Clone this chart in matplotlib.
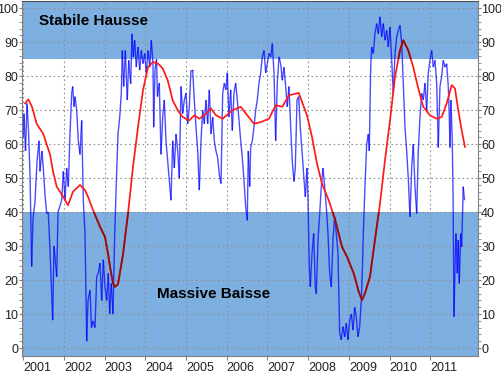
import numpy as np
import matplotlib
matplotlib.use("Agg")
import matplotlib.pyplot as plt
from matplotlib.collections import LineCollection

plt.rcParams['font.family'] = ['Liberation Sans', 'DejaVu Sans']

# indicator (weekly readings)
blue_years = [
    2001.000, 2001.017, 2001.054, 2001.091, 2001.128, 2001.165, 2001.206, 2001.238, 2001.287, 2001.337,
    2001.386, 2001.410, 2001.459, 2001.491, 2001.533, 2001.575, 2001.614, 2001.656, 2001.722, 2001.754,
    2001.821, 2001.853, 2001.943, 2001.983, 2002.025, 2002.066, 2002.106, 2002.147, 2002.189, 2002.214,
    2002.246, 2002.270, 2002.312, 2002.351, 2002.393, 2002.435, 2002.474, 2002.516, 2002.558, 2002.590,
    2002.639, 2002.676, 2002.713, 2002.762, 2002.803, 2002.843, 2002.885, 2002.926, 2002.966, 2003.007,
    2003.049, 2003.088, 2003.123, 2003.162, 2003.204, 2003.246, 2003.285, 2003.327, 2003.369, 2003.408,
    2003.432, 2003.467, 2003.506, 2003.555, 2003.590, 2003.639, 2003.671, 2003.703, 2003.737, 2003.776,
    2003.818, 2003.860, 2003.899, 2003.941, 2003.983, 2004.022, 2004.064, 2004.106, 2004.145, 2004.187,
    2004.204, 2004.236, 2004.273, 2004.297, 2004.342, 2004.383, 2004.425, 2004.464, 2004.506, 2004.548,
    2004.587, 2004.629, 2004.671, 2004.710, 2004.752, 2004.794, 2004.833, 2004.875, 2004.916, 2004.956,
    2004.998, 2005.039, 2005.079, 2005.120, 2005.162, 2005.201, 2005.243, 2005.285, 2005.324, 2005.366,
    2005.408, 2005.447, 2005.489, 2005.531, 2005.570, 2005.612, 2005.654, 2005.693, 2005.735, 2005.776,
    2005.816, 2005.858, 2005.899, 2005.939, 2005.980, 2006.012, 2006.054, 2006.096, 2006.135, 2006.177,
    2006.219, 2006.258, 2006.300, 2006.342, 2006.381, 2006.423, 2006.464, 2006.504, 2006.528, 2006.563,
    2006.587, 2006.627, 2006.668, 2006.710, 2006.749, 2006.791, 2006.833, 2006.872, 2006.914, 2006.956,
    2006.995, 2007.037, 2007.079, 2007.118, 2007.160, 2007.201, 2007.241, 2007.283, 2007.324, 2007.364,
    2007.405, 2007.447, 2007.486, 2007.528, 2007.570, 2007.609, 2007.651, 2007.683, 2007.725, 2007.767,
    2007.806, 2007.848, 2007.889, 2007.929, 2007.970, 2007.995, 2008.027, 2008.052, 2008.093, 2008.135,
    2008.174, 2008.199, 2008.241, 2008.283, 2008.322, 2008.364, 2008.405, 2008.445, 2008.486, 2008.528,
    2008.568, 2008.609, 2008.651, 2008.690, 2008.732, 2008.774, 2008.813, 2008.855, 2008.897, 2008.936,
    2008.978, 2009.019, 2009.059, 2009.101, 2009.142, 2009.182, 2009.224, 2009.265, 2009.305, 2009.334,
    2009.354, 2009.395, 2009.437, 2009.477, 2009.501, 2009.536, 2009.560, 2009.600, 2009.640, 2009.683,
    2009.722, 2009.764, 2009.806, 2009.845, 2009.887, 2009.929, 2009.968, 2010.010, 2010.052, 2010.091,
    2010.133, 2010.174, 2010.214, 2010.256, 2010.297, 2010.337, 2010.378, 2010.420, 2010.459, 2010.501,
    2010.543, 2010.582, 2010.624, 2010.666, 2010.705, 2010.747, 2010.789, 2010.828, 2010.870, 2010.911,
    2010.951, 2010.992, 2011.034, 2011.074, 2011.115, 2011.157, 2011.196, 2011.238, 2011.280, 2011.319,
    2011.361, 2011.403, 2011.442, 2011.467, 2011.484, 2011.508, 2011.540, 2011.560, 2011.582, 2011.607,
    2011.631, 2011.663, 2011.687, 2011.712, 2011.747, 2011.771, 2011.810, 2011.840,
]
blue_values = [
    62, 69, 58, 72, 64, 51, 24, 38, 43, 55,
    61, 52, 58, 53, 45, 39.6, 40, 28.8, 8.2, 30,
    21, 40, 43.5, 52, 43.5, 53, 47.5, 63, 75, 77,
    71, 74, 70, 61, 57, 67, 43.5, 33.7, 2, 14,
    17, 6, 8, 6, 21, 22, 25, 14, 26, 18,
    14, 22, 10, 19, 10, 33.7, 48.4, 63, 68, 75,
    87.6, 77, 87.6, 73, 84.7, 77.8, 92.5, 85.7, 90.6, 82.7,
    88.6, 81.8, 87.6, 83.7, 86.7, 80.8, 87.6, 82.7, 90.6, 83.7,
    65, 82, 85, 74, 78, 57, 68, 73, 61, 55,
    49.4, 43.5, 61, 53, 63, 58, 50, 77, 69, 73,
    75, 66, 71, 81.8, 81.8, 73, 65, 58, 46.5, 61,
    70, 66, 73, 66, 76, 63, 68, 61, 58, 56,
    51, 48.4, 75, 78, 76, 81, 68, 76, 64, 75,
    78, 73, 67, 61, 56, 49.4, 41.6, 37.6, 58, 47.5,
    59, 61, 65, 70, 73, 78, 81, 85.7, 87.6, 81,
    83.7, 86.7, 85.7, 89.6, 81, 61, 78, 85.7, 83.7, 78.8,
    82.7, 77, 71, 77, 65, 55, 49, 53, 73, 74,
    65, 58, 51, 44.5, 53, 43.5, 24, 18, 27.8, 33.7,
    18, 16, 31.8, 39.6, 47.5, 53, 47.5, 41.6, 33.7, 22,
    18, 31.8, 38.6, 33.7, 27.8, 4.3, 2.4, 6.3, 3.3, 7.3,
    2.4, 8.2, 10, 5.3, 12, 9.2, 3.3, 6.3, 14, 24,
    33.7, 47.5, 60, 63, 58, 82.7, 88.6, 86.7, 92.5, 95.5,
    92.5, 97.5, 91.6, 95.5, 90.6, 93.5, 88.6, 94.5, 84.7, 75,
    86.7, 91.6, 93.5, 95, 89.6, 77.8, 65, 58, 50, 38.6,
    53, 60, 47.5, 39.6, 58, 68, 75, 73, 78, 70,
    81, 84.7, 87.6, 82.7, 84.7, 78, 59, 77, 80, 84.7,
    82.7, 83.7, 77, 68, 59, 73, 61, 45, 9.2, 24,
    33.7, 22, 31.8, 19, 33.7, 29.8, 47.5, 43.5,
]

# smoothed average
red_years = [
    2001.042, 2001.123, 2001.214, 2001.329, 2001.491, 2001.656, 2001.730, 2001.821, 2001.983, 2002.098,
    2002.221, 2002.393, 2002.516, 2002.590, 2002.713, 2002.885, 2003.007, 2003.081, 2003.130, 2003.204,
    2003.253, 2003.327, 2003.449, 2003.572, 2003.695, 2003.818, 2003.941, 2004.064, 2004.187, 2004.310,
    2004.425, 2004.548, 2004.671, 2004.794, 2004.916, 2005.079, 2005.201, 2005.324, 2005.489, 2005.612,
    2005.735, 2005.899, 2006.135, 2006.342, 2006.504, 2006.668, 2006.833, 2007.037, 2007.201, 2007.364,
    2007.528, 2007.767, 2007.970, 2008.093, 2008.216, 2008.339, 2008.504, 2008.666, 2008.830, 2008.953,
    2009.118, 2009.241, 2009.322, 2009.395, 2009.518, 2009.640, 2009.764, 2009.887, 2010.010, 2010.133,
    2010.256, 2010.337, 2010.459, 2010.582, 2010.705, 2010.828, 2010.992, 2011.157, 2011.280, 2011.403,
    2011.526, 2011.607, 2011.687, 2011.771, 2011.852,
]
red_values = [
    72, 73.2, 71, 66, 63, 57, 52, 47.5, 44.5, 42,
    46, 48, 46.5, 44.5, 40.6, 35.7, 32.7, 27.8, 24, 19,
    18, 18.8, 27.5, 39.5, 53.3, 65, 75.9, 82.7, 84.2, 83.7,
    82.3, 78.8, 72.9, 70, 68, 67, 68.5, 67.5, 69, 70.5,
    68.5, 67.5, 70, 71, 68.5, 66, 66.5, 67.5, 71.5, 71,
    74.4, 75.1, 68.5, 62.2, 54.3, 48.4, 43.5, 37.6, 29.8, 26.9,
    22, 16.6, 14.1, 16.1, 21, 31.8, 42.5, 55.3, 67, 79.8,
    87.6, 90.6, 87.6, 82.7, 76.4, 71, 68.5, 67.5, 68, 72,
    77.4, 76.4, 70, 64.1, 59.2,
]

year_ticks = list(range(2001, 2012))
y_ticks = list(range(0, 101, 10))
hausse_level = 85
baisse_level = 40

band_color = '#7dafe1'
y_lo, y_hi = -2.35, 102.15

fig = plt.figure(figsize=(5.01, 3.73), dpi=100)
ax = fig.add_axes([22 / 501, 17 / 373, 455.7 / 501, 355 / 373])
ax.set_xlim(2000.968, 2012.165)
ax.set_ylim(y_lo, y_hi)

top_band = ax.axhspan(hausse_level, y_hi, color=band_color, lw=0, zorder=1)
low_band = ax.axhspan(y_lo, baisse_level, color=band_color, lw=0, zorder=1)

pts = np.column_stack([blue_years, blue_values])
segs = np.stack([pts[:-1], pts[1:]], axis=1)
ax.add_collection(LineCollection(segs, colors='#0000ff', linewidths=1.0, alpha=0.7, zorder=2))

ax.plot(red_years, red_values, color='#ff1a1a', lw=1.25, zorder=3)
for band in (top_band, low_band):
    dark, = ax.plot(red_years, red_values, color='#8e1010', lw=1.25, zorder=4)
    dark.set_clip_path(band)

ax.text(2001.386, 96.2, 'Stabile Hausse', fontsize=11, fontweight='bold', ha='left', va='center', zorder=5)
ax.text(2004.278, 15.9, 'Massive Baisse', fontsize=11, fontweight='bold', ha='left', va='center', zorder=5)

ax.set_xticks(year_ticks)
ax.set_xticklabels([str(y) for y in year_ticks], ha='left')
ax.set_yticks(y_ticks)
ax.set_yticks(list(range(0, 101, 2)), minor=True)
ax.tick_params(axis='both', which='major', labelsize=9, colors='#808080', labelcolor='#222222', length=2)
ax.tick_params(axis='y', which='major', labelright=True, right=True, pad=0.5)
ax.tick_params(axis='y', which='minor', right=True, length=2, colors='#808080')
ax.tick_params(axis='x', length=3, pad=1)
ax.grid(True, which='major', color='#909090', linestyle=(0, (1.5, 2.5)), linewidth=0.8)

for side in ('left', 'right', 'bottom'):
    ax.spines[side].set_color('#808080')
ax.spines['top'].set_color('#505050')

fig.savefig('out.png', dpi=100)
